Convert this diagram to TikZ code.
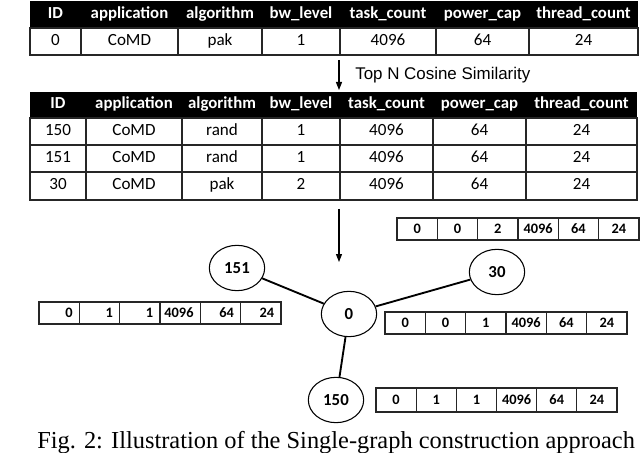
\documentclass[tikz,border=0pt]{standalone}
\usepackage{fontspec}
\setmainfont{Carlito}
\newfontfamily\arialf{Liberation Sans}
\newfontfamily\timesf{Liberation Serif}
\usetikzlibrary{shapes.geometric,arrows.meta}
\begin{document}
\begin{tikzpicture}[x=0.75pt,y=-0.75pt,
  hdr/.style={font=\bfseries\fontsize{12.6}{14}\selectfont, text=white, inner sep=0pt, text height=8.6pt, text depth=2.6pt},
  dat/.style={font=\fontsize{12.8}{14}\selectfont, inner sep=0pt, text height=8.6pt, text depth=2.6pt},
  vec/.style={font=\bfseries\fontsize{10.8}{13}\selectfont, inner sep=0pt, text height=7.2pt, text depth=0.4pt},
  tline/.style={draw=black!85, line width=0.9pt},
  vline/.style={draw=black!85, line width=0.9pt},
  gnode/.style={ellipse, draw, line width=0.8pt, inner sep=0pt,
     minimum width=41.5pt, minimum height=34pt, font=\bfseries\fontsize{12.6}{14}\selectfont},
  gedge/.style={line width=1.4pt},
  arr/.style={-{Triangle[length=6pt,width=4.5pt]}, line width=0.9pt},
]
\useasboundingbox (0,0) rectangle (640,453);
\clip (0,0) rectangle (640,453);

% ---------- Table 1 ----------
\fill[black] (30,1) rectangle (638,28);
\draw[tline] (30,28) rectangle (638,55);
\foreach \x in {81,178,262,340,436,529} \draw[tline] (\x,28) -- (\x,55);
\foreach \x/\t [count=\i] in {55.5/ID,129.5/application,220/algorithm,301/bw\_level,388/task\_count,482.5/power\_cap,583.5/thread\_count}
  \node[hdr] (tah\i) at (\x,15) {\t};
\foreach \x/\t [count=\i] in {55.5/0,129.5/CoMD,220/pak,301/1,388/4096,482.5/64,583.5/24}
  \node[dat] (tad\i) at (\x,42) {\t};

% ---------- arrow 1 ----------
\coordinate (a1s) at (339,60);
\coordinate (a1e) at (339,90);
\draw[arr] (a1s) -- (a1e);
\node[anchor=west, inner sep=0pt, font=\arialf\fontsize{12.7}{15}\selectfont] (lbl) at (355,75) {Top N Cosine Similarity};

% ---------- Table 2 ----------
\fill[black] (30,92) rectangle (637,118);
\draw[tline] (30,118) rectangle (637,200);
\foreach \y in {145,172} \draw[tline] (30,\y) -- (637,\y);
\foreach \x in {86,182,262,340,433,526} \draw[tline] (\x,118) -- (\x,200);
\foreach \x/\t [count=\i] in {58/ID,134/application,222/algorithm,301/bw\_level,386.5/task\_count,479.5/power\_cap,581.5/thread\_count}
  \node[hdr] (tbh\i) at (\x,105) {\t};
\foreach \x/\t [count=\i] in {58/150,134/CoMD,222/rand,301/1,386.5/4096,479.5/64,581.5/24}
  \node[dat] (tbr\i) at (\x,131.5) {\t};
\foreach \x/\t [count=\i] in {58/151,134/CoMD,222/rand,301/1,386.5/4096,479.5/64,581.5/24}
  \node[dat] (tbs\i) at (\x,158.5) {\t};
\foreach \x/\t [count=\i] in {58/30,134/CoMD,222/pak,301/2,386.5/4096,479.5/64,581.5/24}
  \node[dat] (tbt\i) at (\x,186) {\t};

% ---------- arrow 2 ----------
\coordinate (a2s) at (339,209);
\coordinate (a2e) at (339,262);
\draw[arr] (a2s) -- (a2e);

% ---------- feature vectors ----------
% top-right (node 30)
\draw[vline] (397,218) rectangle (639,240);
\foreach \k in {1,...,5} \draw[vline] ({397+40.33*\k},218) -- ({397+40.33*\k},240);
\foreach \t [count=\i] in {0,0,2,4096,64,24}
  \node[vec] (va\i) at ({397+40.33*(\i-0.5)},229) {\t};
% mid-right (node 0)
\draw[vline] (385,312) rectangle (627,334);
\foreach \k in {1,...,5} \draw[vline] ({385+40.33*\k},312) -- ({385+40.33*\k},334);
\foreach \t [count=\i] in {0,0,1,4096,64,24}
  \node[vec] (vb\i) at ({385+40.33*(\i-0.5)},323) {\t};
% bottom (node 150)
\draw[vline] (376,388) rectangle (617,412);
\foreach \k in {1,...,5} \draw[vline] ({376+40.17*\k},388) -- ({376+40.17*\k},412);
\foreach \t [count=\i] in {0,1,1,4096,64,24}
  \node[vec] (vc\i) at ({376+40.17*(\i-0.5)},400) {\t};
% left (node 151)
\draw[vline] (39,302) rectangle (281,324);
\foreach \k in {1,...,5} \draw[vline] ({39+40.33*\k},302) -- ({39+40.33*\k},324);
\foreach \t [count=\i] in {0,1,1,4096,64,24}
  \node[vec, anchor=east] (vd\i) at ({39+40.33*\i-6.5},313) {\t};

% ---------- graph ----------
\node[gnode] (n151) at (237,268) {151};
\node[gnode] (n30) at (497,272) {30};
\node[gnode] (n0) at (349,314) {0};
\node[gnode] (n150) at (336,400) {150};
\draw[gedge] (n151) -- (n0);
\draw[gedge] (n30) -- (n0);
\draw[gedge] (n0) -- (n150);

% ---------- caption ----------
\node[anchor=base west, inner sep=0pt, font=\timesf\fontsize{18.3}{20}\selectfont] (cap) at (37,448)
  {Fig. 2: Illustration of the Single-graph construction approach};
\end{tikzpicture}
\end{document}
